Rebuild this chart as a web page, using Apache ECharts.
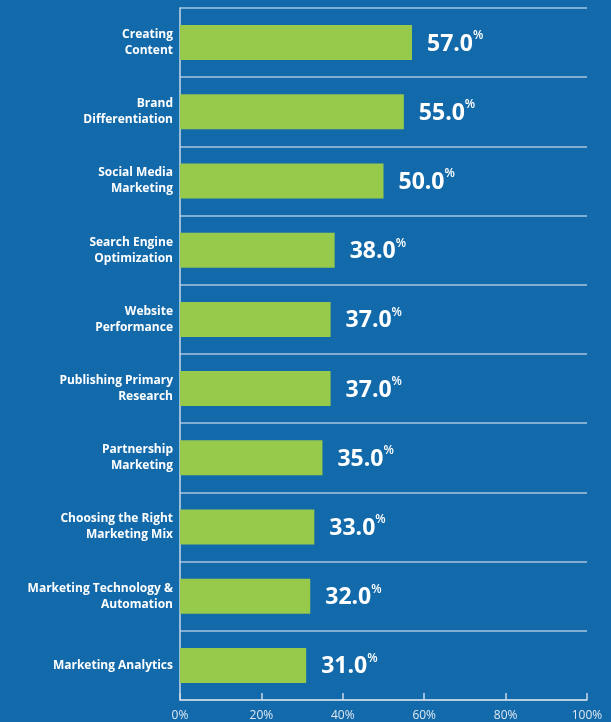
<!DOCTYPE html>
<html><head><meta charset="utf-8">
<script src="https://cdn.jsdelivr.net/npm/echarts@6/dist/echarts.min.js"></script>
<style>html,body{margin:0;padding:0;background:#136aab;}#c{width:611px;height:722px;}</style>
</head><body><div id="c"></div>
<script>
const categories = ["Creating\nContent","Brand\nDifferentiation","Social Media\nMarketing","Search Engine\nOptimization","Website\nPerformance","Publishing Primary\nResearch","Partnership\nMarketing","Choosing the Right\nMarketing Mix","Marketing Technology &\nAutomation","Marketing Analytics"];
const values = [57.0,55.0,50.0,38.0,37.0,37.0,35.0,33.0,32.0,31.0];
const xTicks = [0,20,40,60,80,100];
const chart = echarts.init(document.getElementById('c'));
chart.setOption({
  backgroundColor:'#136aab',
  animation:false,
  grid:{left:180,right:24,top:8,bottom:22,containLabel:false},
  xAxis:{type:'value',min:0,max:100,interval:20,
    axisLine:{show:true,lineStyle:{color:'#c9d9e8',width:1.5}},
    axisTick:{show:true,inside:true,length:7,lineStyle:{color:'#c9d9e8',width:1.5}},
    splitLine:{show:false},
    axisLabel:{color:'#dfe9f2',fontFamily:'Open Sans',fontSize:12,margin:10,formatter:v=>v+'%'}
  },
  yAxis:{type:'category',data:categories,inverse:true,
    axisLine:{show:true,lineStyle:{color:'#c9d9e8',width:1.5}},
    axisTick:{show:false},
    splitLine:{show:true,lineStyle:{color:'#a6c4de',width:1.5}},
    axisLabel:{color:'#ffffff',fontFamily:'Open Sans',fontWeight:'bold',fontSize:12,lineHeight:16,margin:7,align:'right'}
  },
  series:[{type:'bar',data:values,barWidth:35,
    itemStyle:{color:'#97c94a'},
    label:{show:true,position:'right',distance:15,
      formatter:p=>'{v|'+p.value.toFixed(1)+'}{p|%}',
      rich:{
        v:{color:'#ffffff',fontFamily:'Open Sans',fontWeight:'bold',fontSize:23,verticalAlign:'bottom',lineHeight:26},
        p:{color:'#ffffff',fontFamily:'Open Sans',fontWeight:600,fontSize:12,verticalAlign:'top',lineHeight:26,padding:[0,0,8,0]}
      }
    }
  }]
});
</script></body></html>
